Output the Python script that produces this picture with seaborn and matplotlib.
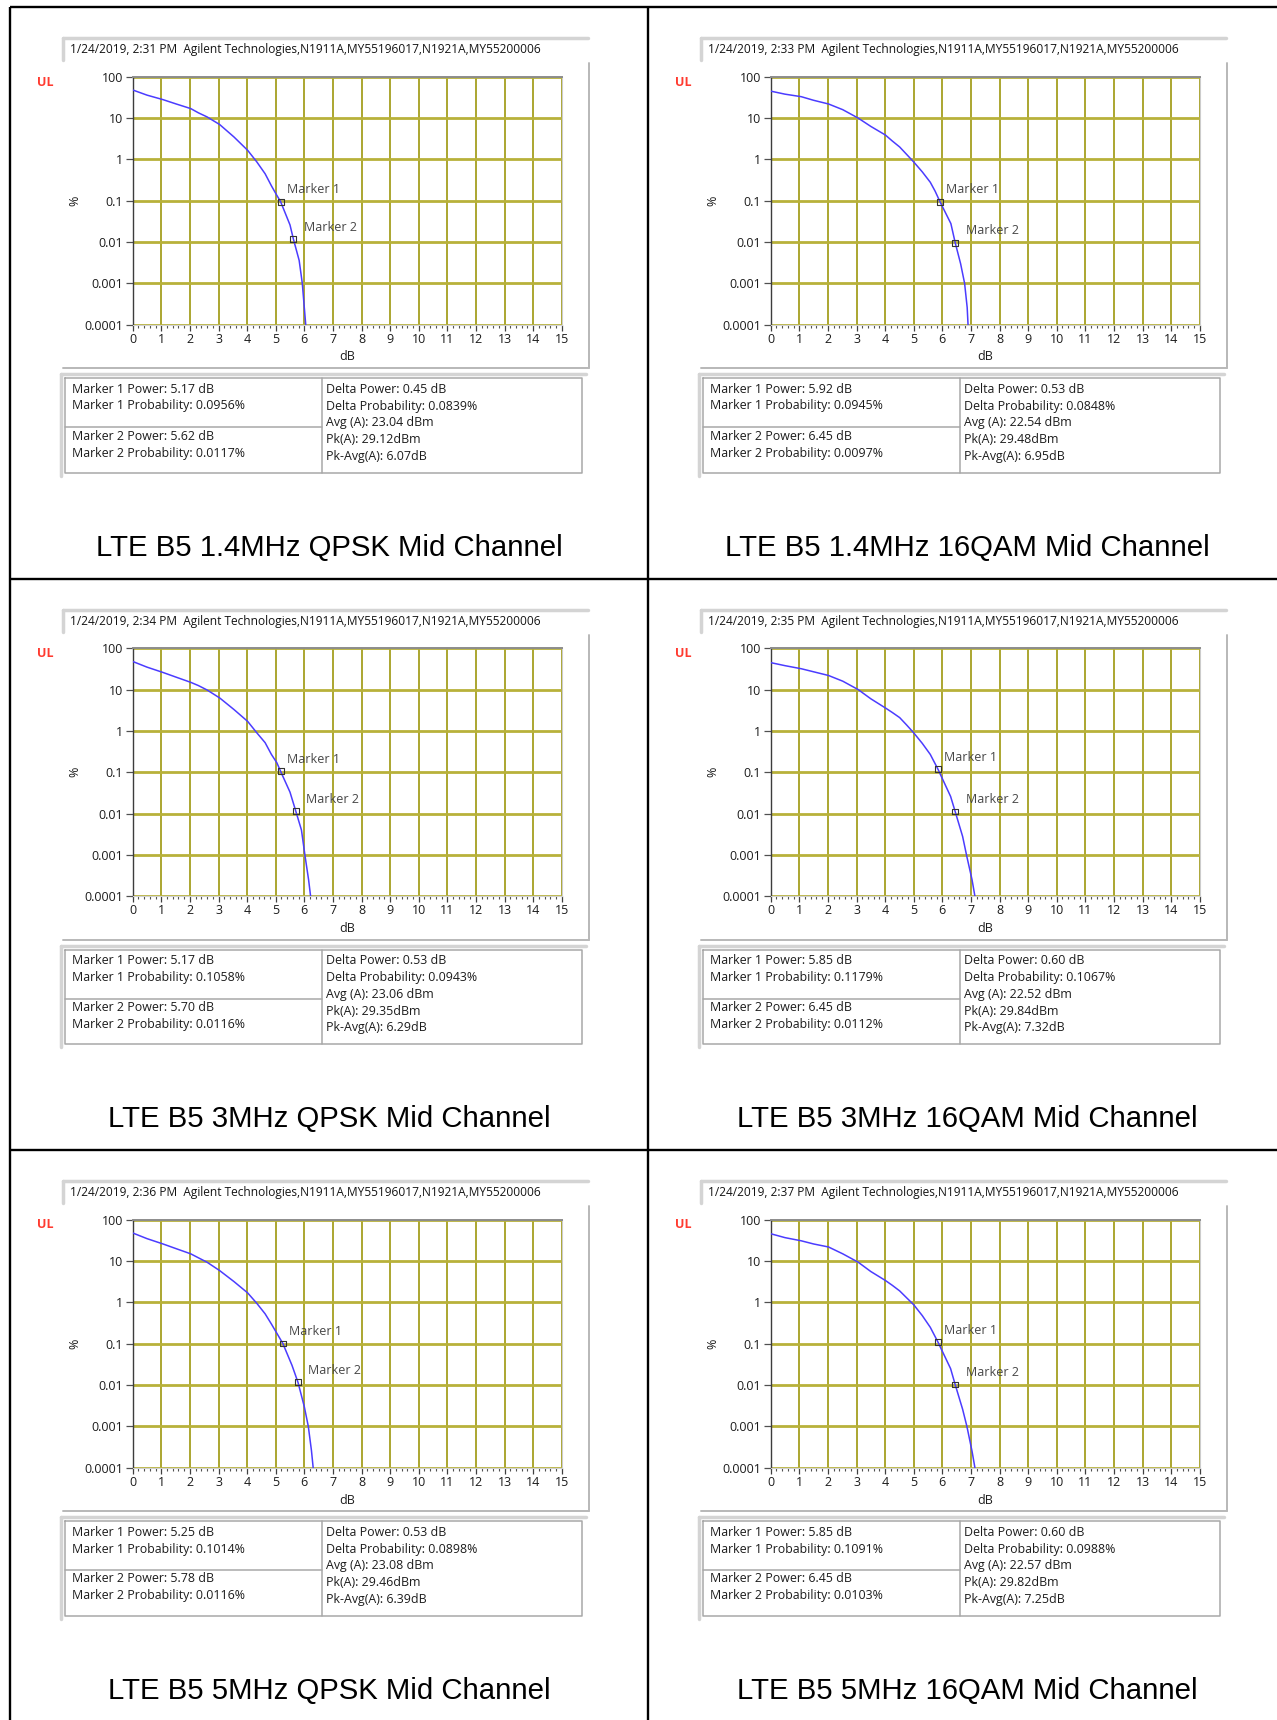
import numpy as np
import pandas as pd
import matplotlib
matplotlib.use("Agg")
import matplotlib.pyplot as plt
import seaborn as sns
from matplotlib.ticker import FixedLocator, FixedFormatter, MultipleLocator, NullLocator

sns.set_style("white")
plt.rcParams['font.family'] = ['Open Sans', 'DejaVu Sans']

# ---------------- data ----------------
titles = [
    "LTE B5 1.4MHz QPSK Mid Channel", "LTE B5 1.4MHz 16QAM Mid Channel",
    "LTE B5 3MHz QPSK Mid Channel", "LTE B5 3MHz 16QAM Mid Channel",
    "LTE B5 5MHz QPSK Mid Channel", "LTE B5 5MHz 16QAM Mid Channel",
]
timestamps = ["2:31 PM", "2:33 PM", "2:34 PM", "2:35 PM", "2:36 PM", "2:37 PM"]
header_date = "1/24/2019"
instrument = "Agilent Technologies,N1911A,MY55196017,N1921A,MY55200006"

marker1_power = [5.17, 5.92, 5.17, 5.85, 5.25, 5.85]
marker1_prob = [0.0956, 0.0945, 0.1058, 0.1179, 0.1014, 0.1091]
marker2_power = [5.62, 6.45, 5.70, 6.45, 5.78, 6.45]
marker2_prob = [0.0117, 0.0097, 0.0116, 0.0112, 0.0116, 0.0103]
delta_power = [0.45, 0.53, 0.53, 0.60, 0.53, 0.60]
delta_prob = [0.0839, 0.0848, 0.0943, 0.1067, 0.0898, 0.0988]
avg_power = [23.04, 22.54, 23.06, 22.52, 23.08, 22.57]
peak_power = [29.12, 29.48, 29.35, 29.84, 29.46, 29.82]
pk_avg = [6.07, 6.95, 6.29, 7.32, 6.39, 7.25]

curve1_db = [0, 0.5, 1.06, 1.52, 2.03, 2.3, 2.6, 3.04, 3.54, 4.02, 4.34, 4.63, 4.85, 5.04,
             5.17, 5.5, 5.62, 5.82, 5.93, 6.0, 6.05]
curve1_pct = [48, 36, 28, 22, 17, 13.4, 10.7, 7, 3.5, 1.66, 0.87, 0.45, 0.23, 0.135,
              0.0956, 0.026, 0.0117, 0.0036, 0.001, 0.00026, 0.0001]
curve2_db = [0, 0.5, 1.07, 1.5, 2.02, 2.52, 3.06, 3.5, 4.01, 4.25, 4.51, 4.75, 5.0, 5.3,
             5.58, 5.75, 5.92, 6.3, 6.45, 6.64, 6.78, 6.87, 6.9]
curve2_pct = [45, 38, 33, 27, 22, 16, 10, 6.3, 3.9, 2.8, 2.0, 1.33, 0.87, 0.5,
              0.28, 0.17, 0.0945, 0.028, 0.0097, 0.003, 0.001, 0.00026, 0.0001]
curve3_db = [0, 0.5, 1.06, 1.52, 2.03, 2.3, 2.6, 3.04, 3.54, 4.02, 4.34, 4.63, 4.85, 5.04,
             5.17, 5.5, 5.70, 5.9, 6.03, 6.15, 6.22]
curve3_pct = [48, 35, 26, 20, 15, 12.5, 9.8, 6.3, 3.3, 1.7, 0.9, 0.52, 0.27, 0.17,
              0.1058, 0.033, 0.0116, 0.004, 0.0009, 0.00025, 0.0001]
curve4_db = [0, 0.5, 1.07, 1.5, 2.02, 2.52, 3.06, 3.5, 4.01, 4.25, 4.51, 4.75, 5.0, 5.3,
             5.58, 5.85, 6.29, 6.45, 6.71, 6.86, 7.04, 7.14]
curve4_pct = [45, 38, 32, 27, 22, 16, 10, 6.0, 3.6, 2.8, 2.1, 1.4, 0.9, 0.5,
              0.27, 0.1179, 0.026, 0.0112, 0.0028, 0.0009, 0.00025, 0.0001]
curve5_db = [0, 0.5, 1.06, 1.52, 2.03, 2.3, 2.6, 3.04, 3.54, 4.02, 4.34, 4.63, 4.85, 5.06,
             5.25, 5.57, 5.78, 6.0, 6.14, 6.25, 6.31]
curve5_pct = [48, 35, 26, 20, 15, 12, 9.4, 5.9, 3.2, 1.7, 0.95, 0.53, 0.3, 0.17,
              0.1014, 0.03, 0.0116, 0.003, 0.001, 0.00026, 0.0001]
curve6_db = [0, 0.5, 1.07, 1.5, 2.02, 2.52, 3.06, 3.5, 4.01, 4.25, 4.51, 4.75, 5.0, 5.3,
             5.58, 5.85, 6.29, 6.45, 6.71, 6.86, 7.04, 7.14]
curve6_pct = [46, 37, 31, 26, 22, 15, 9.4, 5.6, 3.4, 2.6, 1.9, 1.3, 0.88, 0.48,
              0.25, 0.1091, 0.025, 0.0103, 0.0026, 0.001, 0.00025, 0.0001]

curves_db = [curve1_db, curve2_db, curve3_db, curve4_db, curve5_db, curve6_db]
curves_pct = [curve1_pct, curve2_pct, curve3_pct, curve4_pct, curve5_pct, curve6_pct]

y_ticks = [100, 10, 1, 0.1, 0.01, 0.001, 0.0001]
y_tick_labels = ["100", "10", "1", "0.1", "0.01", "0.001", "0.0001"]
x_ticks = list(range(0, 16))

# ---------------- layout ----------------
W, H = 1277, 1720
fig = plt.figure(figsize=(W / 100, H / 100), dpi=100)
fig.patch.set_facecolor("white")

bg = fig.add_axes([0, 0, 1, 1], zorder=0)
bg.set_xlim(0, W)
bg.set_ylim(H, 0)
bg.axis("off")


def frac(x0, y0, x1, y1):
    return [x0 / W, 1 - y1 / H, (x1 - x0) / W, (y1 - y0) / H]


col_x = [10, 648]
row_y = [7, 578.5, 1150]

# outer table lines
blw = 1.7
bg.plot([col_x[0], W], [row_y[0], row_y[0]], color="black", lw=blw, solid_capstyle="butt")
for yy in row_y[1:]:
    bg.plot([col_x[0], W], [yy, yy], color="black", lw=blw, solid_capstyle="butt")
for xx in col_x:
    bg.plot([xx, xx], [row_y[0], H], color="black", lw=blw, solid_capstyle="butt")

txt_col = "#1c1c1c"
small_fs = 8.9
tick_fs = 9.0

for i in range(6):
    r, c = divmod(i, 2)
    ox, oy = col_x[c], row_y[r]

    # header box (bevel top/left)
    bg.plot([ox + 53, ox + 578], [oy + 31, oy + 31], color="#d4d4d4", lw=2.5)
    bg.plot([ox + 53, ox + 53], [oy + 31, oy + 53], color="#d4d4d4", lw=2.5)
    bg.text(ox + 60, oy + 42.5, f"{header_date}, {timestamps[i]}  {instrument}",
            fontsize=8.6, color="#141414", va="center", ha="left")

    # plot panel frame (shadow right/bottom)
    bg.plot([ox + 579, ox + 579], [oy + 56, oy + 361], color="#b8b8b8", lw=1.4)
    bg.plot([ox + 53, ox + 579], [oy + 361, oy + 361], color="#b8b8b8", lw=1.4)

    bg.text(ox + 35, oy + 75, "UL", fontsize=9, fontweight="bold", color="#ff3b30",
            va="center", ha="center")
    bg.text(ox + 64.6, oy + 193.7, "%", fontsize=9, rotation=90, color=txt_col,
            va="center", ha="center")
    bg.text(ox + 337.5, oy + 350, "dB", fontsize=9, color=txt_col,
            va="center", ha="center")

    # plot axes
    ax = fig.add_axes(frac(ox + 122.7, oy + 69.8, ox + 551.7, oy + 317.7), zorder=2)
    df = pd.DataFrame({"dB": curves_db[i], "pct": curves_pct[i]})
    sns.lineplot(data=df, x="dB", y="pct", ax=ax, color="#4b3cff", lw=1.1,
                 sort=False, estimator=None, zorder=4)
    mk = pd.DataFrame({"dB": [marker1_power[i], marker2_power[i]],
                       "pct": [marker1_prob[i], marker2_prob[i]]})
    sns.scatterplot(data=mk, x="dB", y="pct", ax=ax, marker="s", s=18,
                    facecolor="none", edgecolor="#333333", linewidth=0.8, zorder=5)
    ax.annotate("Marker 1", xy=(marker1_power[i], marker1_prob[i]), xytext=(4.5, 8.5),
                textcoords="offset points", fontsize=9, color="#474747",
                va="center", ha="left", zorder=6)
    ax.annotate("Marker 2", xy=(marker2_power[i], marker2_prob[i]), xytext=(7.5, 8.5),
                textcoords="offset points", fontsize=9, color="#474747",
                va="center", ha="left", zorder=6)

    ax.set_yscale("log")
    ax.set_xlim(0, 15)
    ax.set_ylim(1e-4, 100)
    ax.yaxis.set_major_locator(FixedLocator(y_ticks))
    ax.yaxis.set_major_formatter(FixedFormatter(y_tick_labels))
    ax.yaxis.set_minor_locator(NullLocator())
    ax.xaxis.set_major_locator(FixedLocator(x_ticks))
    ax.xaxis.set_minor_locator(MultipleLocator(0.2))
    ax.set_xlabel("")
    ax.set_ylabel("")
    ax.tick_params(axis="x", which="major", length=4.5, width=0.9, color="#404040",
                   direction="out", pad=1.2, labelsize=tick_fs, labelcolor=txt_col, bottom=True)
    ax.tick_params(axis="x", which="minor", length=2.5, width=0.8, color="#505050",
                   direction="out", bottom=True)
    ax.tick_params(axis="y", which="major", length=5, width=0.9, color="#505050",
                   direction="out", pad=2, labelsize=tick_fs, labelcolor=txt_col, left=True)
    ax.xaxis.grid(True, which="major", color="#a59f20", lw=1.3)
    ax.yaxis.grid(True, which="major", color="#b8b13a", lw=2.0)
    ax.set_axisbelow(True)
    ax.set_facecolor("white")
    ax.spines["left"].set_color("#3c3c3c")
    ax.spines["left"].set_linewidth(1.0)
    ax.spines["top"].set_color("#8c8c8c")
    ax.spines["top"].set_linewidth(1.4)
    ax.spines["right"].set_color("#cccccc")
    ax.spines["bottom"].set_color("#d0d0d0")
    ax.spines["bottom"].set_linewidth(0.8)

    # info table
    tx0, tx1 = ox + 55, ox + 571.5
    ty0, ty1 = oy + 371, oy + 465.5
    xs = ox + 311.5
    ysplit = oy + 420
    bg.plot([tx0 - 4, tx1 + 4], [ty0 - 4, ty0 - 4], color="#d4d4d4", lw=2.5)
    bg.plot([tx0 - 4, tx0 - 4], [ty0 - 4, ty1 + 3], color="#d4d4d4", lw=2.5)
    bg.plot([tx0, tx1, tx1, tx0, tx0], [ty0, ty0, ty1, ty1, ty0], color="#a8a8a8", lw=1.1)
    bg.plot([xs, xs], [ty0, ty1], color="#a8a8a8", lw=1.1)
    bg.plot([tx0, xs], [ysplit, ysplit], color="#a8a8a8", lw=1.1)

    left_lines = [
        (oy + 382.5, f"Marker 1 Power: {marker1_power[i]:.2f} dB"),
        (oy + 399.0, f"Marker 1 Probability: {marker1_prob[i]:.4f}%"),
        (oy + 429.0, f"Marker 2 Power: {marker2_power[i]:.2f} dB"),
        (oy + 446.0, f"Marker 2 Probability: {marker2_prob[i]:.4f}%"),
    ]
    for yy, s in left_lines:
        bg.text(ox + 62.4, yy, s, fontsize=small_fs, color=txt_col, va="center", ha="left")
    right_lines = [
        f"Delta Power: {delta_power[i]:.2f} dB",
        f"Delta Probability: {delta_prob[i]:.4f}%",
        f"Avg (A): {avg_power[i]:.2f} dBm",
        f"Pk(A): {peak_power[i]:.2f}dBm",
        f"Pk-Avg(A): {pk_avg[i]:.2f}dB",
    ]
    for k, s in enumerate(right_lines):
        bg.text(ox + 315.8, oy + 382.5 + 16.7 * k, s, fontsize=small_fs, color=txt_col,
                va="center", ha="left")

    # caption
    bg.text(ox + 319, oy + 541, titles[i], fontsize=21.2, color="black",
            family=["Liberation Sans", "DejaVu Sans"], va="center", ha="center")

fig.savefig("out.png", dpi=100, facecolor="white")
